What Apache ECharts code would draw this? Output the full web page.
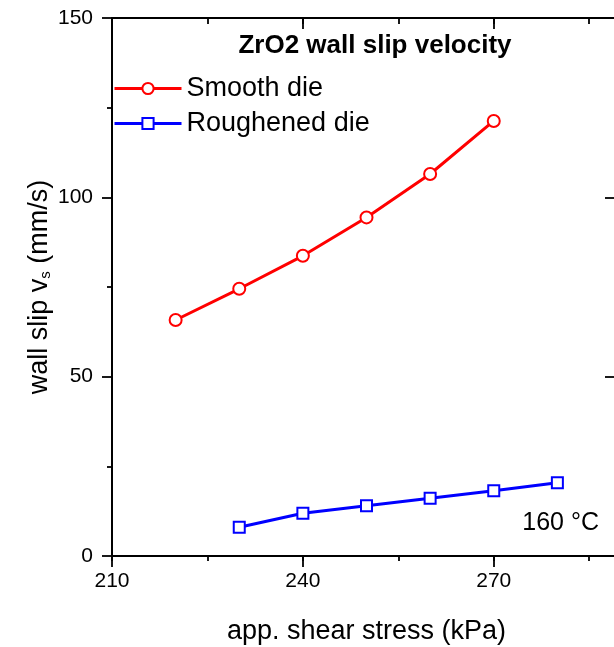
<!DOCTYPE html>
<html><head><meta charset="utf-8">
<script src="https://cdn.jsdelivr.net/npm/echarts@6/dist/echarts.min.js"></script>
<style>html,body{margin:0;padding:0;background:#fff}#c{width:614px;height:647px}</style>
</head><body><div id="c"></div>
<script>
const smoothX = [220, 230, 240, 250, 260, 270];
const smoothY = [65.8, 74.5, 83.7, 94.4, 106.5, 121.3];
const roughX = [230, 240, 250, 260, 270, 280];
const roughY = [8.0, 11.9, 14.0, 16.1, 18.2, 20.4];
const seriesNames = ['Smooth die', 'Roughened die'];
const titleText = 'ZrO2 wall slip velocity';
const noteText = '160 °C';
const xName = 'app. shear stress (kPa)';

const FF = "'Liberation Sans', Arial, sans-serif";
const BLACK = '#000';
const chart = echarts.init(document.getElementById('c'), null, {renderer: 'canvas'});

function xAx(pos, interval, len, inside, major) {
  return {
    type: 'value', position: pos, min: 210, max: 290, interval: interval,
    axisLine: {show: major, onZero: false, lineStyle: {color: BLACK, width: 2}},
    axisTick: {show: true, inside: inside, length: len, lineStyle: {color: BLACK, width: 1.8}},
    axisLabel: {show: pos === 'bottom' && major, margin: 15, fontSize: 21, color: BLACK, fontFamily: FF, showMaxLabel: false},
    splitLine: {show: false},
    name: (pos === 'bottom' && major) ? xName : '',
    nameLocation: 'middle', nameGap: 62,
    nameTextStyle: {fontSize: 27, color: BLACK, fontFamily: FF}
  };
}

const option = {
  backgroundColor: '#fff',
  animation: false,
  grid: {left: 112, top: 18, height: 538, width: 509, containLabel: false, outerBoundsMode: 'none'},
  xAxis: [
    xAx('bottom', 30, 11, false, true),
    xAx('bottom', 15, 5, false, false),
    xAx('top', 30, 11, true, true),
    xAx('top', 15, 6, true, false)
  ],
  yAxis: [
    {
      type: 'value', position: 'left', min: 0, max: 150, interval: 50,
      axisLine: {show: true, onZero: false, lineStyle: {color: BLACK, width: 2}},
      axisTick: {show: true, inside: false, length: 10, lineStyle: {color: BLACK, width: 1.8}},
      minorTick: {show: true, splitNumber: 2, length: 5, lineStyle: {color: BLACK, width: 1.8}},
      axisLabel: {margin: 19, fontSize: 21, color: BLACK, fontFamily: FF},
      splitLine: {show: false}, minorSplitLine: {show: false},
      name: '{a|wall slip v}{s|s}{a| (mm/s)}',
      nameLocation: 'middle', nameGap: 59, nameRotate: 90, nameMoveOverlap: false,
      nameTextStyle: {
        fontSize: 27, color: BLACK, fontFamily: FF,
        rich: {
          a: {fontSize: 27, color: BLACK, fontFamily: FF},
          s: {fontSize: 15, color: BLACK, fontFamily: FF, verticalAlign: 'bottom', padding: [12, 0, 0, 0]}
        }
      }
    },
    {
      type: 'value', position: 'right', min: 0, max: 150, interval: 50,
      axisLine: {show: true, onZero: false, lineStyle: {color: BLACK, width: 2}},
      axisTick: {show: true, inside: true, length: 16, lineStyle: {color: BLACK, width: 1.8}},
      axisLabel: {show: false}, splitLine: {show: false}
    }
  ],
  legend: {
    orient: 'vertical', left: 113, top: 75, padding: 0, itemWidth: 67, itemHeight: 14, itemGap: 8,
    textStyle: {fontSize: 27, color: BLACK, fontFamily: FF},
    lineStyle: {width: 3},
    data: seriesNames
  },
  graphic: [
    {type: 'text', x: 375, y: 33, style: {text: titleText, align: 'center', verticalAlign: 'top', font: 'bold 26px ' + FF, fill: BLACK}},
    {type: 'text', x: 599, y: 511, style: {text: noteText, align: 'right', verticalAlign: 'top', font: '25px ' + FF, fill: BLACK}}
  ],
  series: [
    {
      name: seriesNames[0], type: 'line', xAxisIndex: 0, yAxisIndex: 0,
      data: smoothX.map((x, i) => [x, smoothY[i]]),
      symbol: 'emptyCircle', symbolSize: 12,
      lineStyle: {color: '#ff0000', width: 3},
      itemStyle: {color: '#ff0000', borderColor: '#ff0000', borderWidth: 2.6}
    },
    {
      name: seriesNames[1], type: 'line', xAxisIndex: 0, yAxisIndex: 0,
      data: roughX.map((x, i) => [x, roughY[i]]),
      symbol: 'emptyRect', symbolSize: 11,
      lineStyle: {color: '#0000ff', width: 3},
      itemStyle: {color: '#0000ff', borderColor: '#0000ff', borderWidth: 2.6}
    }
  ]
};
chart.setOption(option);
</script>
</body></html>
